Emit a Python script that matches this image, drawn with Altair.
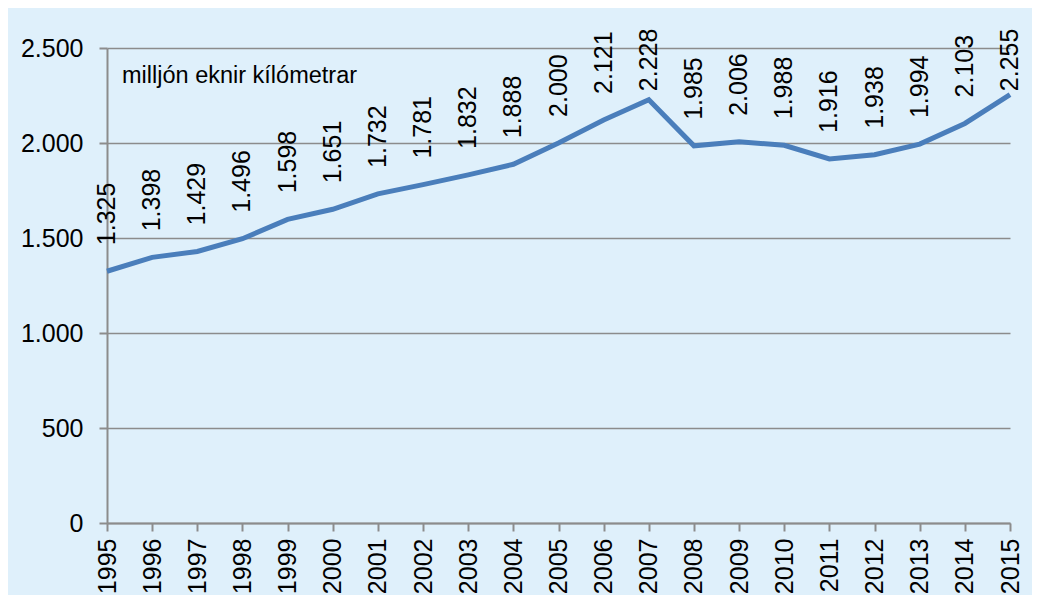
import altair as alt
import pandas as pd

years = [str(y) for y in range(1995, 2016)]
values = [1325, 1398, 1429, 1496, 1598, 1651, 1732, 1781, 1832, 1888, 2000,
          2121, 2228, 1985, 2006, 1988, 1916, 1938, 1994, 2103, 2255]
y_ticks = [0, 500, 1000, 1500, 2000, 2500]
note = "milljón eknir kílómetrar"

df = pd.DataFrame({"year": years, "value": values})

FONT = "Liberation Sans"
LINE = "#4A7EBB"
BG = "#DFF0FB"

x_enc = alt.X("year:O", scale=alt.Scale(type="point", padding=0),
              axis=alt.Axis(title=None, labelAngle=-90, labelFontSize=25,
                            labelFont=FONT, labelColor="black", labelPadding=7,
                            tickSize=8, tickColor="#8C8C8C", tickWidth=2,
                            domainColor="#8C8C8C", domainWidth=2, grid=False))
y_scale = alt.Scale(domain=[0, 2500], nice=False, zero=True)

line = alt.Chart(df).mark_line(color=LINE, strokeWidth=5, clip=False).encode(
    x=x_enc,
    y=alt.Y("value:Q", scale=y_scale,
            axis=alt.Axis(title=None, values=y_ticks, labelFontSize=25, labelFont=FONT,
                          labelColor="black", labelPadding=16, tickSize=8,
                          tickColor="#8C8C8C", tickWidth=2, domainColor="#8C8C8C",
                          domainWidth=2, grid=True, gridColor="#8C8C8C", gridWidth=1.5,
                          labelExpr="replace(format(datum.value, ','), ',', '.')")),
)

labels = alt.Chart(df).transform_calculate(
    lbl="replace(format(datum.value, ','), ',', '.')",
    pos="min(datum.value + 137, 2273)",
).mark_text(angle=270, align="left", baseline="middle", fontSize=25, font=FONT,
            color="black").encode(
    x=alt.X("year:O", scale=alt.Scale(type="point", padding=0)),
    y=alt.Y("pos:Q", scale=y_scale),
    text="lbl:N",
)

note_mark = alt.Chart(pd.DataFrame({"t": [note]})).mark_text(
    align="left", baseline="middle", fontSize=23.5, font=FONT, color="black"
).encode(x=alt.value(15), y=alt.value(28), text="t:N")

chart = alt.layer(line, labels, note_mark).properties(
    width=903, height=475,
    padding={"left": 99, "top": 40, "right": 22, "bottom": 72},
    autosize=alt.AutoSizeParams(type="none"),
    background=BG,
).configure_view(stroke=None, fill=BG)

chart.save("out.html", embed_options={"renderer": "svg", "actions": False})
